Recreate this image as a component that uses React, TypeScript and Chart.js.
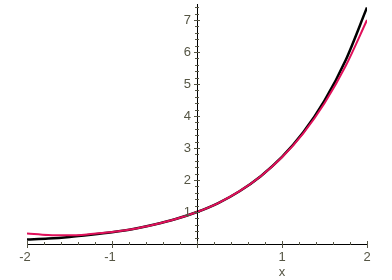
import React, { useEffect, useRef } from "react";
import { Chart, registerables } from "chart.js";
Chart.register(...registerables);

const xs = [-2, -1.75, -1.5, -1.25, -1, -0.75, -0.5, -0.25, 0, 0.25, 0.5, 0.75, 1, 1.25, 1.5, 1.75, 2];
const expValues = [0.14, 0.17, 0.22, 0.29, 0.37, 0.47, 0.61, 0.78, 1, 1.28, 1.65, 2.12, 2.72, 3.49, 4.48, 5.75, 7.39];
const approxValues = [0.33, 0.28, 0.27, 0.31, 0.375, 0.47, 0.61, 0.78, 1, 1.28, 1.65, 2.12, 2.71, 3.46, 4.4, 5.57, 7.0];
const xTickLabels = [-2, -1, 1, 2];
const yTickLabels = [1, 2, 3, 4, 5, 6, 7];
const xAxisTitle = "x";

const axesPlugin = {
  id: "mapleAxes",
  afterDatasetsDraw(chart: any) {
    const ctx = chart.ctx;
    const xs_ = chart.scales.x;
    const ys_ = chart.scales.y;
    const y0 = ys_.getPixelForValue(0);
    const x0 = xs_.getPixelForValue(0);
    ctx.save();
    ctx.strokeStyle = "#000";
    ctx.lineWidth = 1;
    ctx.beginPath();
    ctx.moveTo(xs_.left, y0 + 0.5);
    ctx.lineTo(xs_.right, y0 + 0.5);
    ctx.stroke();
    ctx.beginPath();
    ctx.moveTo(x0 + 0.5, ys_.top);
    ctx.lineTo(x0 + 0.5, y0);
    ctx.stroke();
    ctx.strokeStyle = "#555544";
    for (let i = -10; i <= 10; i++) {
      const v = i / 5;
      const px = Math.round(xs_.getPixelForValue(v)) + 0.5;
      const major = i % 5 === 0;
      ctx.beginPath();
      ctx.moveTo(px, y0 - (major ? 3 : 2));
      ctx.lineTo(px, y0 + (major ? 4 : 1));
      ctx.stroke();
    }
    for (let i = 1; i <= 37; i++) {
      const v = i / 5;
      const py = Math.round(ys_.getPixelForValue(v)) + 0.5;
      if (py < ys_.top) break;
      const major = i % 5 === 0;
      ctx.beginPath();
      ctx.moveTo(x0 - (major ? 3 : 2), py);
      ctx.lineTo(x0 + (major ? 3 : 2), py);
      ctx.stroke();
    }
    ctx.fillStyle = "#555544";
    ctx.font = "13px 'Liberation Sans', Arial, sans-serif";
    ctx.textAlign = "center";
    ctx.textBaseline = "middle";
    for (const v of xTickLabels) {
      ctx.fillText(String(v), xs_.getPixelForValue(v) - (v < 0 ? 2 : 0), y0 + 13);
    }
    ctx.fillText(xAxisTitle, xs_.getPixelForValue(1), y0 + 28);
    ctx.textAlign = "right";
    for (const v of yTickLabels) {
      ctx.fillText(String(v), x0 - 6, ys_.getPixelForValue(v) + 0.5);
    }
    ctx.restore();
  },
};

export default function App() {
  const ref = useRef<HTMLCanvasElement>(null);
  useEffect(() => {
    if (!ref.current) return;
    const chart = new Chart(ref.current, {
      type: "line",
      data: {
        datasets: [
          {
            data: xs.map((x, i) => ({ x, y: approxValues[i] })),
            borderColor: "#e0105a",
            borderWidth: 2,
            pointRadius: 0,
            tension: 0.4,
            cubicInterpolationMode: "monotone",
          },
          {
            data: xs.map((x, i) => ({ x, y: expValues[i] })),
            borderColor: "#000000",
            borderWidth: 2.5,
            pointRadius: 0,
            tension: 0.4,
            cubicInterpolationMode: "monotone",
          },
        ],
      },
      options: {
        animation: false,
        responsive: false,
        maintainAspectRatio: false,
        layout: { padding: { left: 27, right: 25, top: 4, bottom: 36 } },
        plugins: { legend: { display: false }, tooltip: { enabled: false } },
        scales: {
          x: { type: "linear", min: -2, max: 2, display: false },
          y: { type: "linear", min: 0, max: 7.5, display: false },
        },
      },
      plugins: [axesPlugin],
    } as any);
    return () => chart.destroy();
  }, []);
  return (
    <div style={{ position: "fixed", left: 0, top: 0, width: 392, height: 280, background: "#fff" }}>
      <canvas ref={ref} width={392} height={280} style={{ width: 392, height: 280 }} />
    </div>
  );
}
